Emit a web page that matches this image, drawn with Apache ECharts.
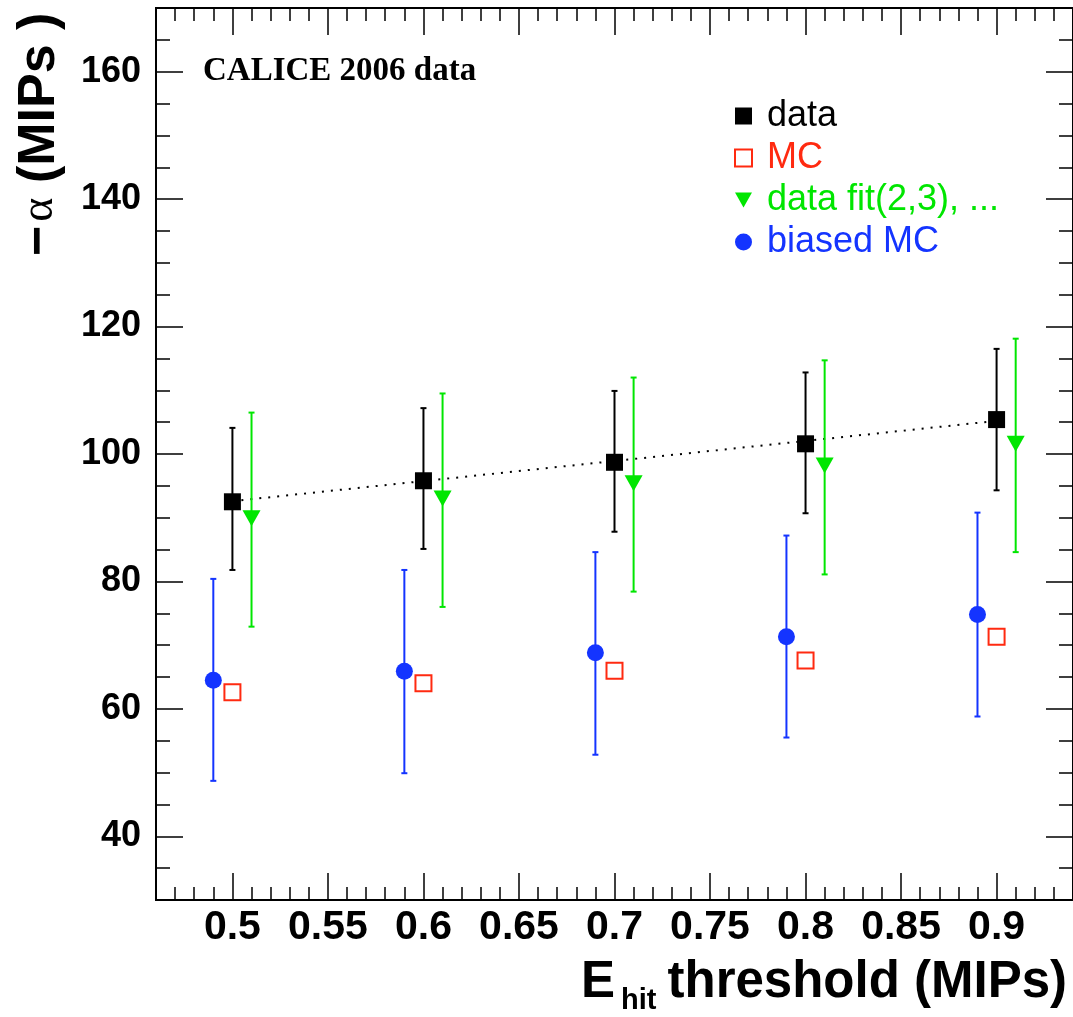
<!DOCTYPE html>
<html>
<head>
<meta charset="utf-8">
<script src="https://cdn.jsdelivr.net/npm/echarts@6/dist/echarts.min.js"></script>
<style>
  html, body { margin: 0; padding: 0; background: #fff; }
  #chart { width: 1073px; height: 1017px; }
</style>
</head>
<body>
<div id="chart"></div>
<script>
// tick positions
const xMajor = [0.5, 0.55, 0.6, 0.65, 0.7, 0.75, 0.8, 0.85, 0.9];
const xMinor = [0.47, 0.48, 0.49, 0.51, 0.52, 0.53, 0.54, 0.56, 0.57, 0.58, 0.59, 0.61, 0.62, 0.63, 0.64,
  0.66, 0.67, 0.68, 0.69, 0.71, 0.72, 0.73, 0.74, 0.76, 0.77, 0.78, 0.79, 0.81, 0.82, 0.83, 0.84,
  0.86, 0.87, 0.88, 0.89, 0.91, 0.92, 0.93];
const yMajor = [40, 60, 80, 100, 120, 140, 160];
const yMinor = [35, 45, 50, 55, 65, 70, 75, 85, 90, 95, 105, 110, 115, 125, 130, 135, 145, 150, 155, 165];

// data (black squares)
const dataX = [0.5, 0.6, 0.7, 0.8, 0.9];
const dataY = [92.5, 95.8, 98.7, 101.6, 105.4];
const dataLo = [81.8, 85.1, 87.8, 90.7, 94.3];
const dataHi = [104.1, 107.2, 109.9, 112.8, 116.5];

// MC (open red squares)
const mcX = [0.5, 0.6, 0.7, 0.8, 0.9];
const mcY = [62.6, 64.0, 66.0, 67.6, 71.3];

// data fit(2,3), ... (green triangles)
const fitX = [0.51, 0.61, 0.71, 0.81, 0.91];
const fitY = [89.9, 93.0, 95.4, 98.2, 101.6];
const fitLo = [72.9, 76.0, 78.4, 81.1, 84.6];
const fitHi = [106.5, 109.5, 112.0, 114.7, 118.1];

// biased MC (blue circles)
const biasX = [0.49, 0.59, 0.69, 0.79, 0.89];
const biasY = [64.5, 65.9, 68.8, 71.3, 74.8];
const biasLo = [48.7, 49.9, 52.8, 55.5, 58.8];
const biasHi = [80.4, 81.8, 84.6, 87.2, 90.8];

// dotted linear fit through data
const lineX = [0.5, 0.9];
const lineY = [92.6, 105.2];

const BLACK = '#000000';
const RED = '#ff2a10';
const GREEN = '#00e600';
const BLUE = '#1434ff';
const SANS = '"Liberation Sans", Arial, Helvetica, sans-serif';
const SERIF = '"Liberation Serif", "Times New Roman", serif';
const DOWN_TRIANGLE = 'path://M0,0L18,0L9,16Z';

const chart = echarts.init(document.getElementById('chart'));

function zip(xs, ys) {
  return xs.map((x, i) => [x, ys[i]]);
}

function errorSeries(name, xs, lo, hi, color) {
  return {
    name: name,
    type: 'custom',
    xAxisIndex: 0,
    yAxisIndex: 0,
    z: 2,
    silent: true,
    data: xs.map((x, i) => [x, lo[i], hi[i]]),
    renderItem: function (params, api) {
      const x = api.value(0);
      const p1 = api.coord([x, api.value(1)]);
      const p2 = api.coord([x, api.value(2)]);
      const style = { stroke: color, lineWidth: 2 };
      return {
        type: 'group',
        children: [
          { type: 'line', shape: { x1: p1[0], y1: p1[1], x2: p2[0], y2: p2[1] }, style: style },
          { type: 'line', shape: { x1: p1[0] - 3, y1: p1[1], x2: p1[0] + 3, y2: p1[1] }, style: style },
          { type: 'line', shape: { x1: p2[0] - 3, y1: p2[1], x2: p2[0] + 3, y2: p2[1] }, style: style }
        ]
      };
    }
  };
}

function xAxisDef(position, ticks, len, labels) {
  return {
    type: 'value',
    position: position,
    min: 0.46,
    max: 0.94,
    axisLine: { show: false, onZero: false },
    splitLine: { show: false },
    axisTick: {
      show: true, inside: true, length: len, customValues: ticks,
      lineStyle: { color: BLACK, width: 1.5 }
    },
    axisLabel: labels ? {
      show: true, customValues: ticks, margin: 7,
      color: BLACK, fontFamily: SANS, fontWeight: 'bold', fontSize: 41
    } : { show: false }
  };
}

function yAxisDef(position, ticks, len, labels) {
  return {
    type: 'value',
    position: position,
    min: 30,
    max: 170,
    axisLine: { show: false, onZero: false },
    splitLine: { show: false },
    axisTick: {
      show: true, inside: true, length: len, customValues: ticks,
      lineStyle: { color: BLACK, width: 1.5 }
    },
    axisLabel: labels ? {
      show: true, customValues: ticks, margin: 15,
      color: BLACK, fontFamily: SANS, fontWeight: 'bold', fontSize: 36
    } : { show: false }
  };
}

const option = {
  animation: false,
  backgroundColor: '#ffffff',
  grid: {
    left: 156,
    top: 8,
    width: 920,
    height: 892,
    show: true,
    borderColor: BLACK,
    borderWidth: 2,
    backgroundColor: 'transparent'
  },
  xAxis: [
    xAxisDef('bottom', xMajor, 27, true),
    xAxisDef('bottom', xMinor, 13, false),
    xAxisDef('top', xMajor, 27, false),
    xAxisDef('top', xMinor, 13, false)
  ],
  yAxis: [
    yAxisDef('left', yMajor, 27, true),
    yAxisDef('left', yMinor, 14, false),
    yAxisDef('right', yMajor, 27, false),
    yAxisDef('right', yMinor, 14, false)
  ],
  legend: {
    orient: 'vertical',
    left: 729,
    top: 93,
    itemWidth: 17,
    itemHeight: 17,
    itemGap: 6,
    selectedMode: false,
    textStyle: { fontFamily: SANS, fontSize: 36, padding: [0, 0, 0, 10] },
    data: [
      { name: 'data', textStyle: { color: BLACK } },
      { name: 'MC', textStyle: { color: RED } },
      { name: 'data fit(2,3), ...', textStyle: { color: GREEN } },
      { name: 'biased MC', textStyle: { color: BLUE } }
    ]
  },
  graphic: [
    {
      type: 'text', left: 203, top: 55, silent: true,
      style: { text: 'CALICE 2006 data', fill: BLACK, font: 'bold 33px ' + SERIF }
    },
    {
      type: 'text', x: 40, y: 256, rotation: Math.PI / 2, silent: true,
      style: {
        text: '{b|−}{g|α}{b| (MIPs )}',
        align: 'left',
        verticalAlign: 'middle',
        rich: {
          b: { fontFamily: SANS, fontWeight: 'bold', fontSize: 52, fill: BLACK },
          g: { fontFamily: SERIF, fontSize: 46, fill: BLACK, padding: [0, 0, 0, 4] }
        }
      }
    },
    {
      type: 'text', x: 581, y: 983, silent: true,
      style: { text: 'E', fill: BLACK, font: 'bold 51px ' + SANS, align: 'left', verticalAlign: 'middle' }
    },
    {
      type: 'text', x: 621, y: 1001, silent: true,
      style: { text: 'hit', fill: BLACK, font: 'bold 29px ' + SANS, align: 'left', verticalAlign: 'middle' }
    },
    {
      type: 'text', x: 1067, y: 983, silent: true,
      style: { text: 'threshold (MIPs)', fill: BLACK, font: 'bold 51px ' + SANS, align: 'right', verticalAlign: 'middle' }
    }
  ],
  series: [
    {
      name: 'fit line',
      type: 'line',
      xAxisIndex: 0,
      yAxisIndex: 0,
      z: 1,
      silent: true,
      symbol: 'none',
      data: zip(lineX, lineY),
      lineStyle: { color: BLACK, width: 2, type: [2, 7] }
    },
    errorSeries('data err', dataX, dataLo, dataHi, BLACK),
    errorSeries('fit err', fitX, fitLo, fitHi, GREEN),
    errorSeries('bias err', biasX, biasLo, biasHi, BLUE),
    {
      name: 'data',
      type: 'scatter',
      xAxisIndex: 0,
      yAxisIndex: 0,
      z: 4,
      symbol: 'rect',
      symbolSize: 17,
      itemStyle: { color: BLACK, opacity: 1 },
      data: zip(dataX, dataY)
    },
    {
      name: 'MC',
      type: 'scatter',
      xAxisIndex: 0,
      yAxisIndex: 0,
      z: 4,
      symbol: 'rect',
      symbolSize: 16,
      itemStyle: { color: '#ffffff', borderColor: RED, borderWidth: 2, opacity: 1 },
      data: zip(mcX, mcY)
    },
    {
      name: 'data fit(2,3), ...',
      type: 'scatter',
      xAxisIndex: 0,
      yAxisIndex: 0,
      z: 4,
      symbol: DOWN_TRIANGLE,
      symbolSize: [18, 16],
      itemStyle: { color: GREEN, opacity: 1 },
      data: zip(fitX, fitY)
    },
    {
      name: 'biased MC',
      type: 'scatter',
      xAxisIndex: 0,
      yAxisIndex: 0,
      z: 4,
      symbol: 'circle',
      symbolSize: 17,
      itemStyle: { color: BLUE, opacity: 1 },
      data: zip(biasX, biasY)
    }
  ]
};

chart.setOption(option);
</script>
</body>
</html>
